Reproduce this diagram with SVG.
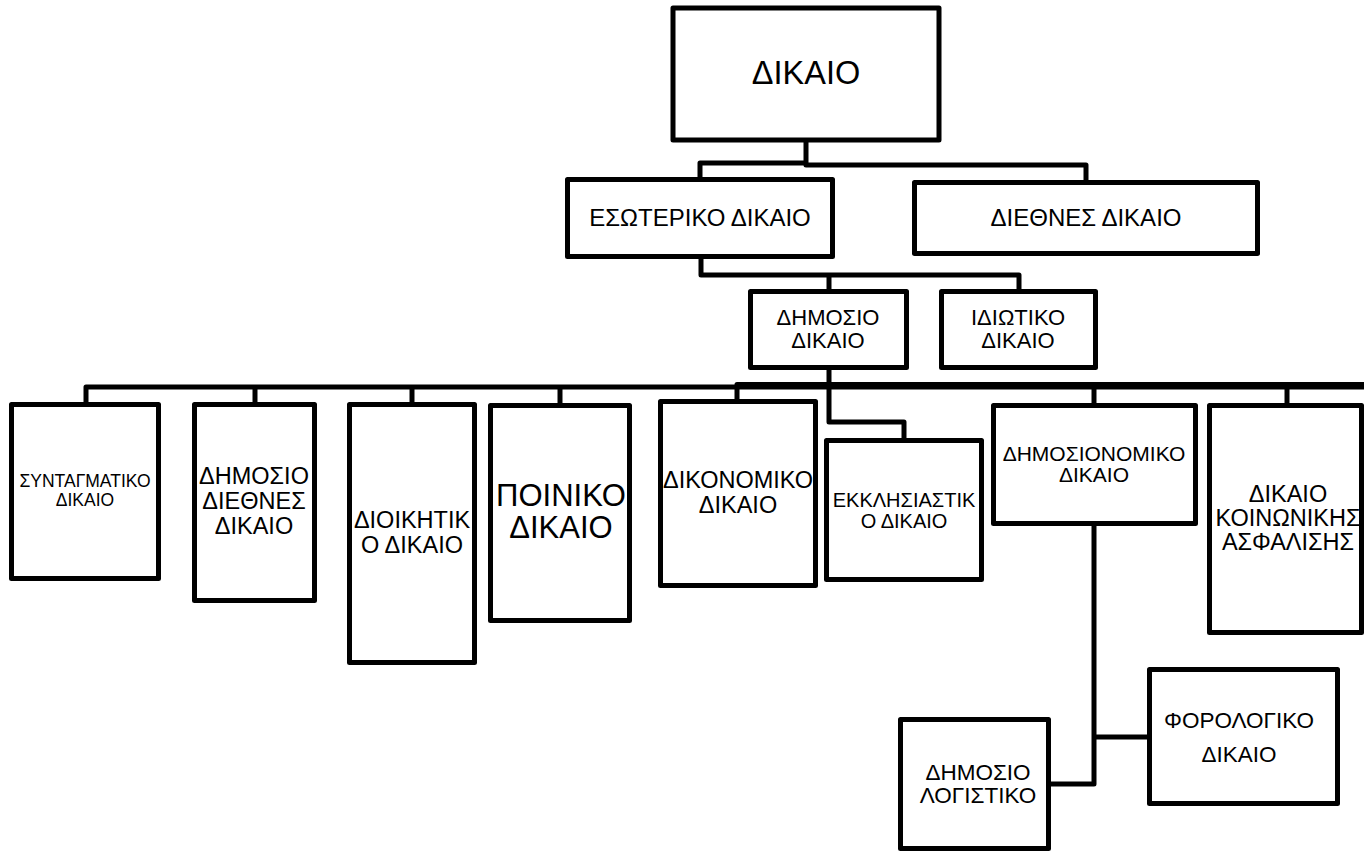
<svg xmlns="http://www.w3.org/2000/svg" width="1364" height="853" viewBox="0 0 1364 853">
<style>
.box{fill:#fff;stroke:#000;stroke-width:5;stroke-linejoin:round}
.ln{fill:none;stroke:#000;stroke-width:5;stroke-linejoin:round;stroke-linecap:butt}
text{font-family:"Liberation Sans",Arial,sans-serif;fill:#000;text-anchor:middle}
</style>
<rect width="1364" height="853" fill="#fff"/>
<g id="connectors">
<path class="ln" d="M806,140 V165 H1086 V182"/>
<path class="ln" d="M806,163 H700 V180"/>
<path class="ln" d="M701,256 V275 H1019 V292"/>
<path class="ln" d="M829,275 V292"/>
<path class="ln" d="M829,367 V387"/>
<path class="ln" d="M86,405 V387 H1364" stroke-width="6"/>
<path class="ln" d="M737,402 V384.5 H1364"/>
<path class="ln" d="M255,387 V405"/>
<path class="ln" d="M412,387 V405"/>
<path class="ln" d="M560,387 V406"/>
<path class="ln" d="M1094,387 V406"/>
<path class="ln" d="M1287,387 V406"/>
<path class="ln" d="M829,387 V422 H904 V441"/>
<path class="ln" d="M1094,524 V784 H1049"/>
<path class="ln" d="M1094,737 H1150"/>
</g>
<g id="n-dikaio"><rect class="box" x="673" y="8" width="266" height="132"/><text x="806" y="84" font-size="32.5">ΔΙΚΑΙΟ</text></g>
<g id="n-esoteriko"><rect class="box" x="567.5" y="179.5" width="265" height="77"/><text x="700" y="226" font-size="24">ΕΣΩΤΕΡΙΚΟ ΔΙΚΑΙΟ</text></g>
<g id="n-diethnes"><rect class="box" x="914.5" y="182.5" width="343" height="71"/><text x="1086" y="226" font-size="24">ΔΙΕΘΝΕΣ ΔΙΚΑΙΟ</text></g>
<g id="n-dimosio"><rect class="box" x="750.5" y="291.5" width="156" height="76"/><text x="828" y="325" font-size="22">ΔΗΜΟΣΙΟ</text><text x="828" y="348" font-size="22">ΔΙΚΑΙΟ</text></g>
<g id="n-idiotiko"><rect class="box" x="941.5" y="291.5" width="154" height="76"/><text x="1018" y="325" font-size="22">ΙΔΙΩΤΙΚΟ</text><text x="1018" y="348" font-size="22">ΔΙΚΑΙΟ</text></g>
<g id="n-syntagmatiko"><rect class="box" x="11.5" y="404.5" width="147" height="174"/><text x="85" y="487" font-size="17.5">ΣΥΝΤΑΓΜΑΤΙΚΟ</text><text x="85" y="506" font-size="17.5">ΔΙΚΑΙΟ</text></g>
<g id="n-dimosio-diethnes"><rect class="box" x="194.5" y="404.5" width="120" height="196"/><text x="254" y="484" font-size="23.5">ΔΗΜΟΣΙΟ</text><text x="254" y="509" font-size="23.5">ΔΙΕΘΝΕΣ</text><text x="254" y="534" font-size="23.5">ΔΙΚΑΙΟ</text></g>
<g id="n-dioikitiko"><rect class="box" x="349.5" y="404.5" width="125" height="258"/><text x="412" y="528" font-size="23.5">ΔΙΟΙΚΗΤΙΚ</text><text x="412" y="553" font-size="23.5">Ο ΔΙΚΑΙΟ</text></g>
<g id="n-poiniko"><rect class="box" x="490.5" y="405.5" width="139" height="215"/><text x="561" y="506" font-size="31">ΠΟΙΝΙΚΟ</text><text x="561" y="538" font-size="31">ΔΙΚΑΙΟ</text></g>
<g id="n-dikonomiko"><rect class="box" x="660.5" y="401.5" width="155" height="184"/><text x="738" y="488" font-size="23.5">ΔΙΚΟΝΟΜΙΚΟ</text><text x="738" y="513" font-size="23.5">ΔΙΚΑΙΟ</text></g>
<g id="n-ekklisiastiko"><rect class="box" x="826.5" y="440.5" width="155" height="139"/><text x="904" y="507" font-size="20">ΕΚΚΛΗΣΙΑΣΤΙΚ</text><text x="904" y="528" font-size="20">Ο ΔΙΚΑΙΟ</text></g>
<g id="n-dimosionomiko"><rect class="box" x="993.5" y="405.5" width="202" height="118"/><text x="1094" y="461" font-size="21">ΔΗΜΟΣΙΟΝΟΜΙΚΟ</text><text x="1094" y="482" font-size="21">ΔΙΚΑΙΟ</text></g>
<g id="n-koinonikis"><rect class="box" x="1209.5" y="405.5" width="152" height="227"/><text x="1288" y="502" font-size="23.5">ΔΙΚΑΙΟ</text><text x="1288" y="526" font-size="23.5">ΚΟΙΝΩΝΙΚΗΣ</text><text x="1288" y="550" font-size="23.5">ΑΣΦΑΛΙΣΗΣ</text></g>
<g id="n-logistiko"><rect class="box" x="900.5" y="719.5" width="148" height="129"/><text x="978" y="780" font-size="22.5">ΔΗΜΟΣΙΟ</text><text x="978" y="803" font-size="22.5">ΛΟΓΙΣΤΙΚΟ</text></g>
<g id="n-forologiko"><rect class="box" x="1149.5" y="669.5" width="188" height="134"/><text x="1239" y="728" font-size="22.5">ΦΟΡΟΛΟΓΙΚΟ</text><text x="1239" y="762" font-size="22.5">ΔΙΚΑΙΟ</text></g>
</svg>
